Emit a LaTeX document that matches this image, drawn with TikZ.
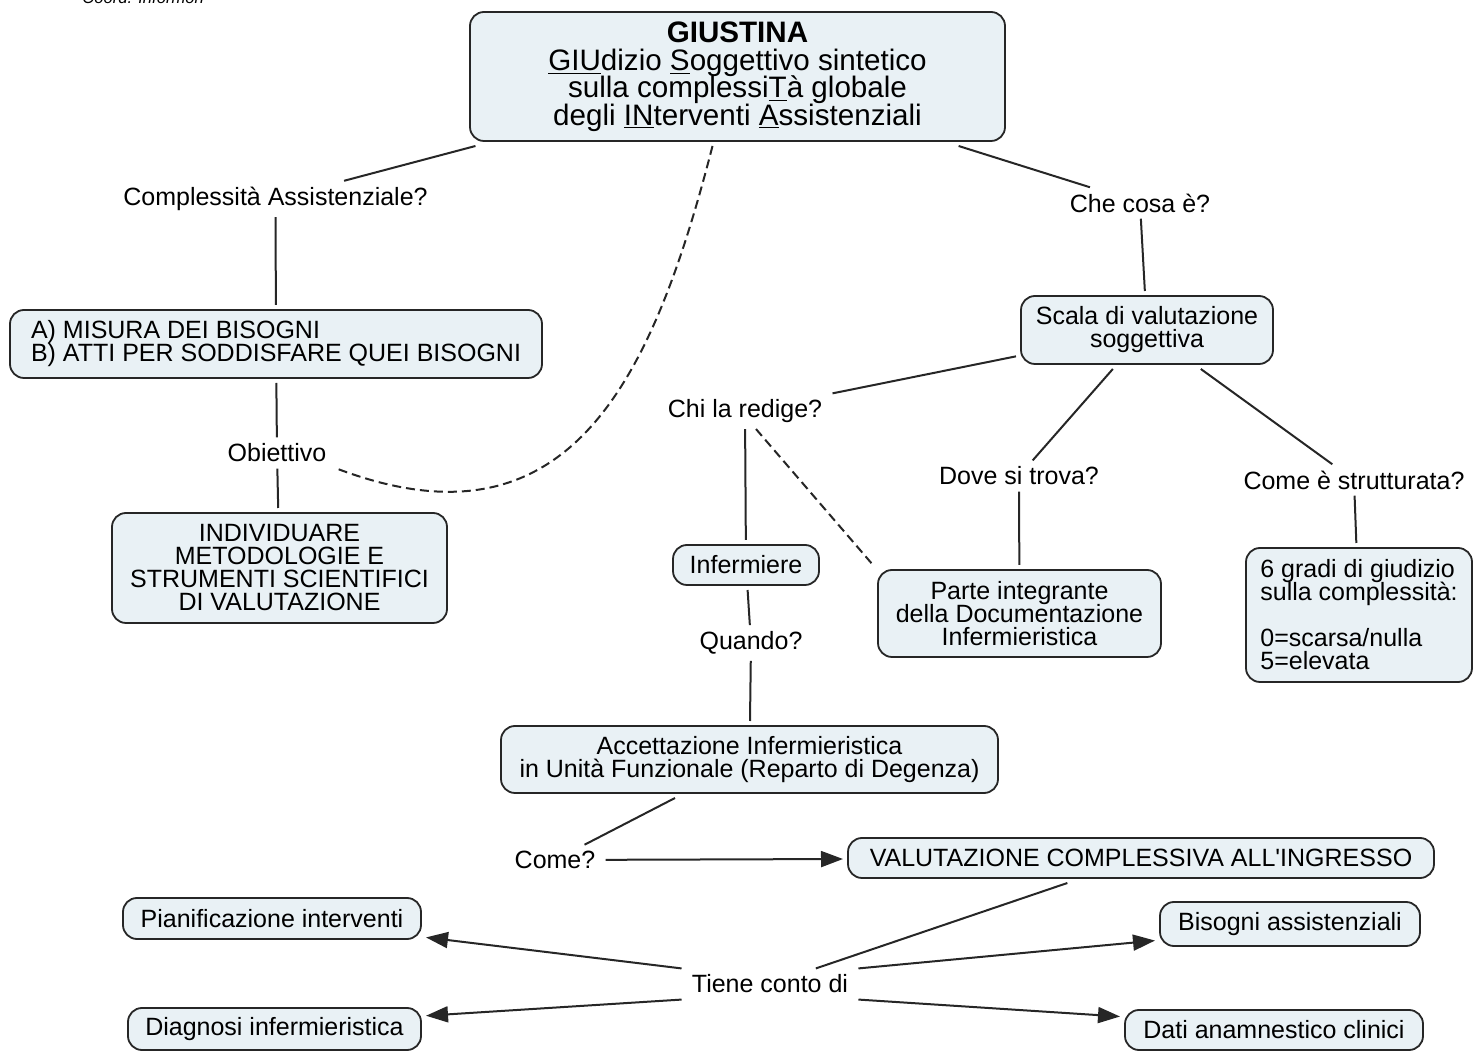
\documentclass[tikz,border=0pt]{standalone}
\usepackage{fontspec}
\setmainfont{Liberation Sans}
\usepackage{tikz}
\usetikzlibrary{arrows.meta}
\usetikzlibrary{calc}
\definecolor{conceptfill}{RGB}{233,241,245}
\newcommand{\cmapfont}{\fontsize{12.5}{11.5}\selectfont\lineskiplimit=-6pt}
\newcommand{\cmaptitlefont}{\fontsize{14.8}{13.75}\selectfont\lineskiplimit=-6pt}

\begin{document}
\begin{tikzpicture}[x=0.5pt,y=0.5pt,yscale=-1,xscale=1,
  concept/.style={draw=black!85, line width=0.9pt, fill=conceptfill, rounded corners=7pt,
    align=center, inner xsep=4pt, inner ysep=3pt, outer sep=2.5pt, font=\cmapfont},
  linkword/.style={inner xsep=5pt, inner ysep=3pt, align=center, font=\cmapfont},
  link/.style={line width=1pt, black!85},
  linkarrow/.style={link, -{Triangle[length=11pt,width=8pt]}},
  dashlink/.style={link, dash pattern=on 4.5pt off 2.5pt}]
  \useasboundingbox (0,0) rectangle (1474,1052); %page is the picture

  % Text Node
  \node [anchor=base west, inner sep=0pt, font=\fontsize{8.3}{10}\selectfont\itshape] (coord) at (82,4) {Coord. Informon};

  % Concepts
  \node [concept, minimum width=267.5pt, minimum height=64.5pt, font=\cmaptitlefont] (giustina) at (737.5,76.5)
    {\textbf{GIUSTINA}\\ \underline{GIU}dizio \underline{S}oggettivo sintetico\\ sulla complessi\underline{T}à globale\\ degli \underline{IN}terventi \underline{A}ssistenziali};
  \node [concept, align=left, minimum width=266pt, minimum height=34pt] (misura) at (276,344)
    {A) MISURA DEI BISOGNI\\ B) ATTI PER SODDISFARE QUEI BISOGNI};
  \node [concept, minimum width=167.5pt, minimum height=55pt] (individuare) at (279.5,568)
    {INDIVIDUARE\\ METODOLOGIE E\\ STRUMENTI SCIENTIFICI\\ DI VALUTAZIONE};
  \node [concept, minimum width=126pt, minimum height=34pt] (scala) at (1147,330)
    {Scala di valutazione\\ soggettiva};
  \node [concept, minimum width=73pt, minimum height=20pt] (infermiere) at (746,565) {Infermiere};
  \node [concept, minimum width=141.5pt, minimum height=43.5pt] (parte) at (1019.5,613.5)
    {Parte integrante\\ della Documentazione\\ Infermieristica};
  \node [concept, align=left, minimum width=113pt, minimum height=67pt] (gradi) at (1359,615)
    {6 gradi di giudizio\\ sulla complessità:\\[11.5pt] 0=scarsa/nulla\\ 5=elevata};
  \node [concept, minimum width=248.5pt, minimum height=33.5pt] (accettazione) at (749.5,759.5)
    {Accettazione Infermieristica\\ in Unità Funzionale (Reparto di Degenza)};
  \node [concept, minimum width=293pt, minimum height=20pt] (valutazione) at (1141,858)
    {VALUTAZIONE COMPLESSIVA ALL\textquotesingle INGRESSO};
  \node [concept, minimum width=149pt, minimum height=20.5pt] (pianificazione) at (272,918.5) {Pianificazione interventi};
  \node [concept, minimum width=130pt, minimum height=22pt] (bisogni) at (1290,924) {Bisogni assistenziali};
  \node [concept, minimum width=146.5pt, minimum height=21pt] (diagnosi) at (274.5,1029) {Diagnosi infermieristica};
  \node [concept, minimum width=149pt, minimum height=20pt] (dati) at (1274,1030) {Dati anamnestico clinici};

  % Linking phrases
  \node [linkword] (compl) at (275.5,199) {Complessità Assistenziale?};
  \node [linkword] (obiettivo) at (277,453) {Obiettivo};
  \node [linkword] (checosa) at (1140,203) {Che cosa è?};
  \node [linkword] (chi) at (745,411) {Chi la redige?};
  \node [linkword] (dove) at (1019,476) {Dove si trova?};
  \node [linkword] (comee) at (1354,480) {Come è strutturata?};
  \node [linkword] (quando) at (751,643) {Quando?};
  \node [linkword] (come) at (555,860) {Come?};
  \node [linkword] (tiene) at (770,984) {Tiene conto di};

  %Straight Lines
  \draw [link] (giustina) -- (compl);
  \draw [link] (compl) -- (misura);
  \draw [link] (misura) -- (obiettivo);
  \draw [link] (obiettivo) -- (individuare);
  \draw [dashlink] ([xshift=-12.5pt]giustina.south) .. controls (650,390) and (565,555) .. (obiettivo.south east);
  \draw [link] (giustina) -- (checosa);
  \draw [link] (checosa) -- (scala);
  \draw [link] (scala) -- (chi);
  \draw [link] (scala) -- (dove);
  \draw [link] (scala) -- (comee);
  \draw [link] (chi) -- (infermiere);
  \draw [dashlink] ([xshift=5.5pt]chi.south) -- (parte.north west);
  \draw [link] (dove) -- (parte);
  \draw [link] (comee) -- (gradi);
  \draw [link] (infermiere) -- (quando);
  \draw [link] (quando) -- (accettazione);
  \draw [link] (accettazione) -- (come);
  \draw [linkarrow] (come) -- (valutazione);
  \draw [link] (valutazione) -- (tiene);
  %Arrows out of Tiene conto di
  \draw [linkarrow] (tiene.north west) -- (pianificazione.-7);
  \draw [linkarrow] (tiene.north east) -- (bisogni.187);
  \draw [linkarrow] (tiene.south west) -- (diagnosi.5);
  \draw [linkarrow] (tiene.south east) -- (dati.175);
\end{tikzpicture}
\end{document}
